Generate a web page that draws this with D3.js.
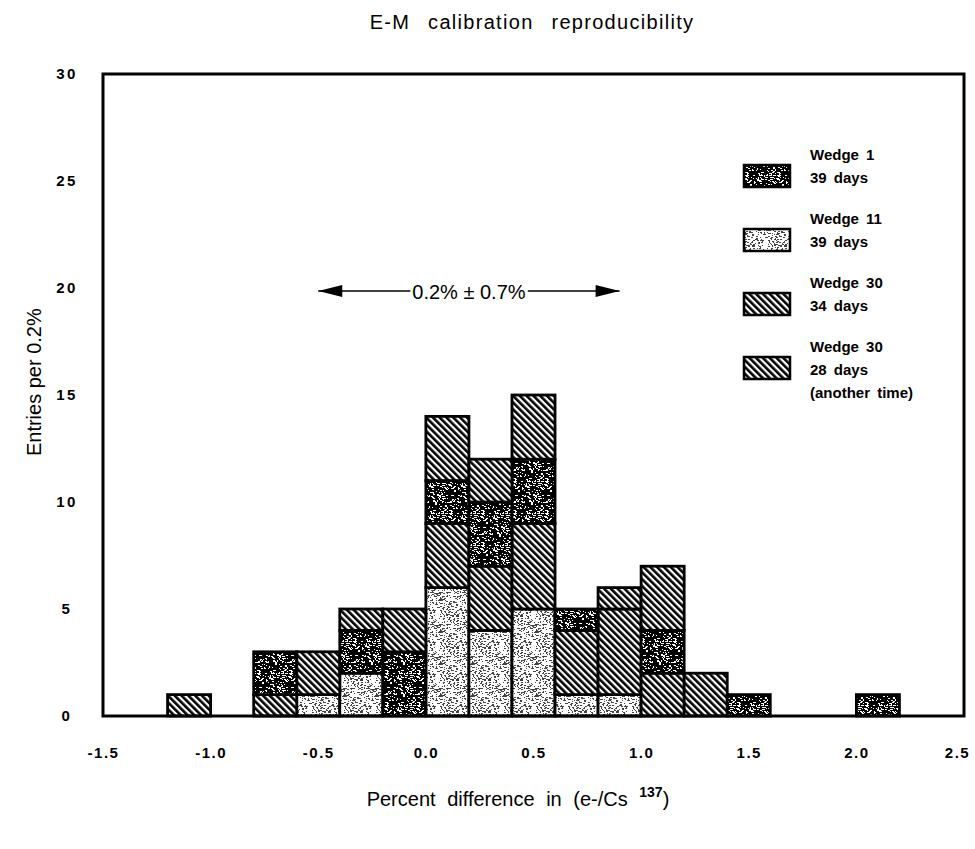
<!DOCTYPE html>
<html>
<head>
<meta charset="utf-8">
<script src="https://cdn.jsdelivr.net/npm/d3@7"></script>
<style>
  body { margin: 0; background: #fff; }
  svg { display: block; font-family: "Liberation Sans", Arial, sans-serif; }
</style>
</head>
<body>
<svg id="chart"></svg>
<script>
// histogram bins (left edge of each 0.2% bin)
const binStart = [-1.2, -1.0, -0.8, -0.6, -0.4, -0.2, 0.0, 0.2, 0.4, 0.6, 0.8, 1.0, 1.2, 1.4, 1.6, 1.8, 2.0];
// entries per bin, one array per series (stacked bottom -> top in this order)
const wedge11 = [0, 0, 0, 1, 2, 0, 6, 4, 5, 1, 1, 0, 0, 0, 0, 0, 0];
const wedge30a = [1, 0, 1, 2, 0, 0, 3, 3, 4, 3, 4, 2, 2, 0, 0, 0, 0];
const wedge1 = [0, 0, 2, 0, 2, 3, 2, 3, 3, 1, 0, 2, 0, 1, 0, 0, 1];
const wedge30b = [0, 0, 0, 0, 1, 2, 3, 2, 3, 0, 1, 3, 0, 0, 0, 0, 0];

const stackKeys = ["wedge11", "wedge30a", "wedge1", "wedge30b"];
const legendKeys = ["wedge1", "wedge11", "wedge30a", "wedge30b"];
const legendText = {
  wedge1: ["Wedge 1", "39 days"],
  wedge11: ["Wedge 11", "39 days"],
  wedge30a: ["Wedge 30", "34 days"],
  wedge30b: ["Wedge 30", "28 days", "(another time)"],
};

const xTicks = [-1.5, -1.0, -0.5, 0.0, 0.5, 1.0, 1.5, 2.0, 2.5];
const yTicks = [0, 5, 10, 15, 20, 25, 30];
const binWidth = 0.2;
const meanValue = 0.2, spreadValue = 0.7, arrowLevel = 20;

const width = 975;
const height = 849;
const margin = { top: 74, right: 11, bottom: 133, left: 103 };

const svg = d3.select("#chart").attr("width", width).attr("height", height);
const defs = svg.append("defs");

// textures ------------------------------------------------------------
const rng = d3.randomLcg(0.137);
function speckle(id, bg, fg, n, tile) {
  const p = defs.append("pattern")
    .attr("id", id)
    .attr("patternUnits", "userSpaceOnUse")
    .attr("width", tile)
    .attr("height", tile);
  p.append("rect").attr("width", tile).attr("height", tile).attr("fill", bg);
  for (let i = 0; i < n; i++) {
    p.append("rect")
      .attr("x", Math.floor(rng() * tile))
      .attr("y", Math.floor(rng() * tile))
      .attr("width", rng() < 0.4 ? 2 : 1)
      .attr("height", 1)
      .attr("fill", fg);
  }
}
speckle("pat-dark", "#000", "#fff", 190, 32);
speckle("pat-light", "#fff", "#444", 240, 32);

const hatch = defs.append("pattern")
  .attr("id", "pat-hatch")
  .attr("patternUnits", "userSpaceOnUse")
  .attr("width", 4.8)
  .attr("height", 10)
  .attr("patternTransform", "rotate(-45)");
hatch.append("rect").attr("width", 4.8).attr("height", 10).attr("fill", "#fff");
hatch.append("rect").attr("width", 2.6).attr("height", 10).attr("fill", "#000");

const fills = {
  wedge1: "url(#pat-dark)",
  wedge11: "url(#pat-light)",
  wedge30a: "url(#pat-hatch)",
  wedge30b: "url(#pat-hatch)",
};

// scales --------------------------------------------------------------
const x = d3.scaleLinear()
  .domain([-1.5, 2.5])
  .range([margin.left, width - margin.right]);

const y = d3.scaleLinear()
  .domain([0, 30])
  .range([height - margin.bottom, margin.top]);

// stacked data
const table = binStart.map((b, i) => ({
  bin: b,
  wedge11: wedge11[i],
  wedge30a: wedge30a[i],
  wedge1: wedge1[i],
  wedge30b: wedge30b[i],
}));
const series = d3.stack().keys(stackKeys)(table);

// bars
svg.append("g")
  .selectAll("g")
  .data(series)
  .join("g")
  .attr("fill", (s) => fills[s.key])
  .selectAll("rect")
  .data((s) => s.filter((d) => d[1] > d[0]))
  .join("rect")
  .attr("x", (d) => x(d.data.bin))
  .attr("width", (d) => x(d.data.bin + binWidth) - x(d.data.bin))
  .attr("y", (d) => y(d[1]))
  .attr("height", (d) => y(d[0]) - y(d[1]))
  .attr("stroke", "#000")
  .attr("stroke-width", 2.8);

// frame
svg.append("rect")
  .attr("x", x(-1.5))
  .attr("y", y(30))
  .attr("width", x(2.5) - x(-1.5))
  .attr("height", y(0) - y(30))
  .attr("fill", "none")
  .attr("stroke", "#000")
  .attr("stroke-width", 3);

// x axis (labels only)
const xAxis = svg.append("g")
  .attr("transform", `translate(0, ${y(0)})`)
  .call(d3.axisBottom(x).tickValues(xTicks).tickSize(0).tickPadding(31).tickFormat((d) => d.toFixed(1)));
xAxis.select(".domain").remove();
xAxis.selectAll("text")
  .attr("font-family", "'Liberation Sans', Arial, sans-serif")
  .attr("font-size", "15px")
  .attr("font-weight", "bold")
  .attr("letter-spacing", "1.5px")
  .attr("fill", "#000");
// last label sits against the right edge
xAxis.selectAll("text")
  .filter((d) => d === xTicks[xTicks.length - 1])
  .attr("dx", -7);

// y axis (labels only)
const yAxis = svg.append("g")
  .attr("transform", `translate(${x(-1.5)}, 0)`)
  .call(d3.axisLeft(y).tickValues(yTicks).tickSize(0));
yAxis.select(".domain").remove();
yAxis.selectAll("text")
  .attr("x", -36)
  .attr("text-anchor", "middle")
  .attr("font-family", "'Liberation Sans', Arial, sans-serif")
  .attr("font-size", "15px")
  .attr("font-weight", "bold")
  .attr("letter-spacing", "2.5px")
  .attr("fill", "#000");

// title
svg.append("text")
  .attr("x", 532)
  .attr("y", 29)
  .attr("text-anchor", "middle")
  .attr("font-size", "20px")
  .attr("letter-spacing", "1.3px")
  .attr("word-spacing", "11px")
  .text("E-M calibration reproducibility");

// y label
svg.append("text")
  .attr("transform", `translate(41, ${y(15.6)}) rotate(-90)`)
  .attr("text-anchor", "middle")
  .attr("font-size", "20px")
  .text("Entries per 0.2%");

// x label
const xLabel = svg.append("text")
  .attr("x", 518)
  .attr("y", 806)
  .attr("text-anchor", "middle")
  .attr("font-size", "20px")
  .attr("word-spacing", "6px");
xLabel.append("tspan").text("Percent difference in (e-/Cs ");
xLabel.append("tspan").attr("font-size", "14px").attr("font-weight", "bold").attr("dy", -9).text("137");
xLabel.append("tspan").attr("dy", 9).text(")");

// mean +- spread annotation
const ay = y(arrowLevel) + 3;
const ann = svg.append("g");
ann.append("line")
  .attr("x1", x(meanValue - spreadValue))
  .attr("x2", x(meanValue + spreadValue))
  .attr("y1", ay)
  .attr("y2", ay)
  .attr("stroke", "#000")
  .attr("stroke-width", 1.6);
const annText = ann.append("text")
  .attr("x", x(meanValue))
  .attr("y", ay + 8)
  .attr("text-anchor", "middle")
  .attr("font-size", "20px")
  .text("0.2% \u00b1 0.7%");
const bb = annText.node().getBBox();
ann.insert("rect", "text")
  .attr("x", bb.x - 2)
  .attr("y", bb.y)
  .attr("width", bb.width + 4)
  .attr("height", bb.height)
  .attr("fill", "#fff");
ann.append("path")
  .attr("d", `M${x(meanValue - spreadValue)},${ay} l24,-6 l0,12 Z`)
  .attr("fill", "#000");
ann.append("path")
  .attr("d", `M${x(meanValue + spreadValue)},${ay} l-24,-6 l0,12 Z`)
  .attr("fill", "#000");

// legend
const legend = svg.append("g")
  .selectAll("g")
  .data(legendKeys)
  .join("g")
  .attr("transform", (d, i) => `translate(744, ${142 + i * 64})`);
legend.append("rect")
  .attr("x", 0)
  .attr("y", 23)
  .attr("width", 46)
  .attr("height", 22)
  .attr("fill", (d) => fills[d])
  .attr("stroke", "#000")
  .attr("stroke-width", 2.5);
legend.each(function (d) {
  const g = d3.select(this);
  legendText[d].forEach((line, j) => {
    g.append("text")
      .attr("x", 66)
      .attr("y", 18 + j * 23)
      .attr("font-size", "15px")
      .attr("font-weight", "bold")
      .attr("word-spacing", "3px")
      .text(line);
  });
});
</script>
</body>
</html>
